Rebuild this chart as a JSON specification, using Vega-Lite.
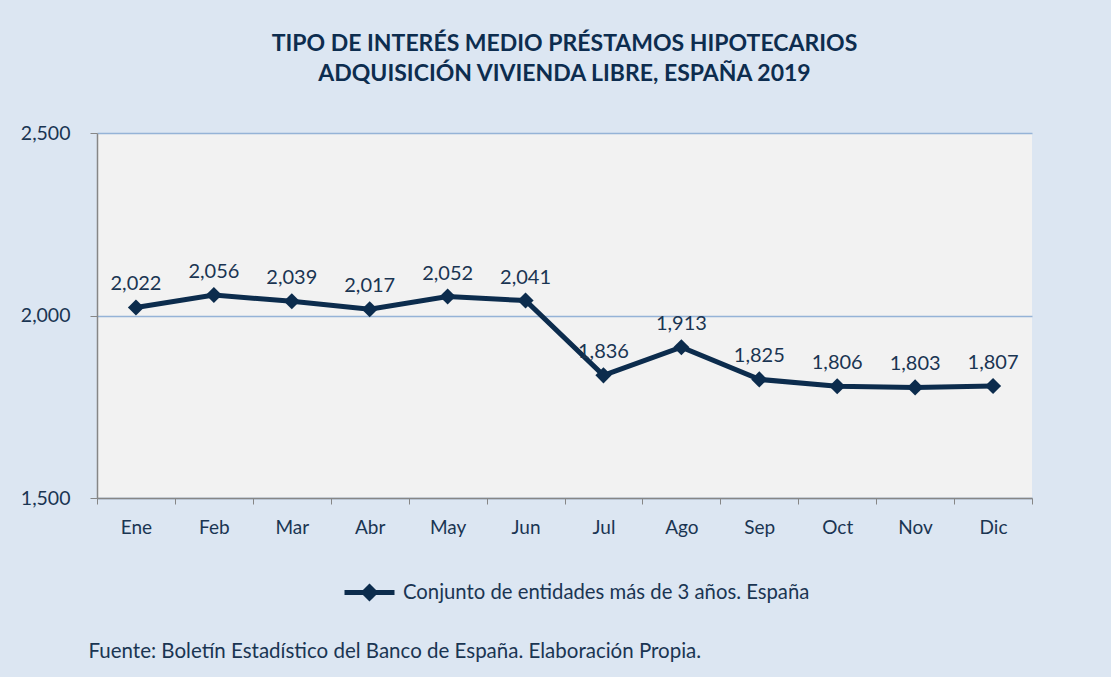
{
  "$schema": "https://vega.github.io/schema/vega-lite/v6.json",
  "width": 935,
  "height": 365,
  "autosize": {"type": "none"},
  "padding": {"left": 97, "top": 133, "right": 79, "bottom": 179},
  "background": "#dce6f2",
  "config": {
    "font": "Lato",
    "view": {"fill": "#f2f2f2", "stroke": null},
    "locale": {"number": {"decimal": ",", "thousands": ".", "grouping": [3], "currency": ["", " €"]}}
  },
  "title": {
    "text": ["TIPO DE INTERÉS MEDIO PRÉSTAMOS HIPOTECARIOS", "ADQUISICIÓN VIVIENDA LIBRE, ESPAÑA 2019"],
    "fontSize": 23,
    "fontWeight": "bold",
    "color": "#0d2d4f",
    "lineHeight": 30,
    "anchor": "middle",
    "offset": 37
  },
  "data": {
    "values": [
      {"mes": "Ene", "tipo": 2.022, "serie": "Conjunto de entidades más de 3 años. España"},
      {"mes": "Feb", "tipo": 2.056, "serie": "Conjunto de entidades más de 3 años. España"},
      {"mes": "Mar", "tipo": 2.039, "serie": "Conjunto de entidades más de 3 años. España"},
      {"mes": "Abr", "tipo": 2.017, "serie": "Conjunto de entidades más de 3 años. España"},
      {"mes": "May", "tipo": 2.052, "serie": "Conjunto de entidades más de 3 años. España"},
      {"mes": "Jun", "tipo": 2.041, "serie": "Conjunto de entidades más de 3 años. España"},
      {"mes": "Jul", "tipo": 1.836, "serie": "Conjunto de entidades más de 3 años. España"},
      {"mes": "Ago", "tipo": 1.913, "serie": "Conjunto de entidades más de 3 años. España"},
      {"mes": "Sep", "tipo": 1.825, "serie": "Conjunto de entidades más de 3 años. España"},
      {"mes": "Oct", "tipo": 1.806, "serie": "Conjunto de entidades más de 3 años. España"},
      {"mes": "Nov", "tipo": 1.803, "serie": "Conjunto de entidades más de 3 años. España"},
      {"mes": "Dic", "tipo": 1.807, "serie": "Conjunto de entidades más de 3 años. España"}
    ]
  },
  "encoding": {
    "x": {
      "field": "mes",
      "type": "ordinal",
      "sort": null,
      "scale": {"type": "band", "paddingInner": 0, "paddingOuter": 0},
      "axis": {
        "title": "Fuente: Boletín Estadístico del Banco de España. Elaboración Propia.",
        "titleAnchor": "start",
        "titleAlign": "left",
        "titleX": -9,
        "titleY": 143,
        "titleFontSize": 20.5,
        "titleFontWeight": "normal",
        "titleColor": "#1a3552",
        "titleLimit": 0,
        "labelAngle": 0,
        "labelFontSize": 19,
        "labelColor": "#1a3552",
        "labelPadding": 14,
        "tickBand": "extent",
        "tickSize": 6,
        "tickColor": "#868686",
        "domainColor": "#868686",
        "domainWidth": 1.5,
        "grid": false
      }
    },
    "y": {
      "field": "tipo",
      "type": "quantitative",
      "scale": {"domain": [1.5, 2.5], "nice": false, "zero": false},
      "axis": {
        "title": null,
        "values": [1.5, 2.0, 2.5],
        "format": ".3f",
        "labelFontSize": 19.5,
        "labelColor": "#1a3552",
        "labelPadding": 20,
        "tickSize": 7,
        "tickColor": "#868686",
        "domainColor": "#868686",
        "domainWidth": 1.5,
        "gridColor": "#95b3d7",
        "gridWidth": 1.5
      }
    }
  },
  "layer": [
    {
      "mark": {
        "type": "line",
        "strokeWidth": 5,
        "point": {"shape": "diamond", "size": 260, "filled": true, "opacity": 1}
      },
      "encoding": {
        "color": {
          "field": "serie",
          "type": "nominal",
          "scale": {"range": ["#0c2c4d"]},
          "legend": {
            "title": null,
            "orient": "none",
            "legendX": 245,
            "legendY": 432,
            "labelFontSize": 20.3,
            "labelLimit": 0,
            "labelColor": "#1a3552",
            "symbolType": "M-1,0H1M0,-0.22L0.22,0L0,0.22L-0.22,0Z",
            "symbolSize": 2500,
            "symbolStrokeWidth": 5,
            "symbolFillColor": "#0c2c4d",
            "symbolStrokeColor": "#0c2c4d",
            "labelOffset": 6
          }
        }
      }
    },
    {
      "mark": {"type": "text", "baseline": "bottom", "dy": -13, "fontSize": 20, "color": "#1a3552"},
      "encoding": {
        "text": {"field": "tipo", "type": "quantitative", "format": ".3f"}
      }
    }
  ]
}
